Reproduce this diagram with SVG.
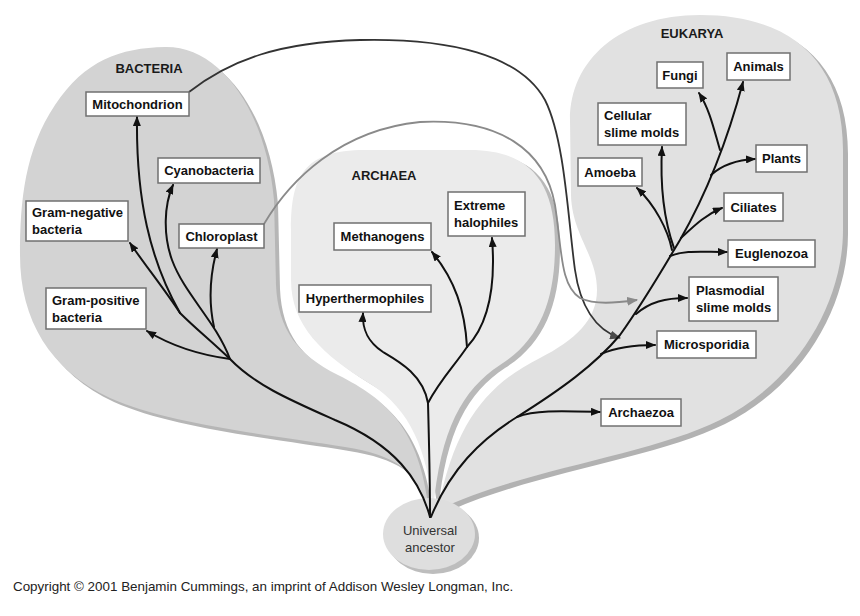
<svg xmlns="http://www.w3.org/2000/svg" width="860" height="616" viewBox="0 0 860 616">
<defs>
<style>
.lbl{font-family:"Liberation Sans",Arial,sans-serif;font-weight:bold;font-size:13px;fill:#111}
.grp{font-family:"Liberation Sans",Arial,sans-serif;font-weight:bold;font-size:13px;fill:#1a1a1a;text-anchor:middle}
.c{text-anchor:middle}
.box{fill:#fff;stroke:#707070;stroke-width:1.5}
.br{fill:none;stroke:#111;stroke-width:2;stroke-linecap:round}
.tip{marker-end:url(#ah)}
</style>
<marker id="ah" viewBox="0 0 10 8" refX="9" refY="4" markerWidth="10" markerHeight="8" markerUnits="userSpaceOnUse" orient="auto"><path d="M0,0 L10,4 L0,8 z" fill="#111"/></marker>
<marker id="ahMito" viewBox="0 0 10 8" refX="9" refY="4" markerWidth="11" markerHeight="9" markerUnits="userSpaceOnUse" orient="auto"><path d="M0,0 L10,4 L0,8 z" fill="#4a4a4a"/></marker>
<marker id="ahChl" viewBox="0 0 10 8" refX="9" refY="4" markerWidth="11" markerHeight="9" markerUnits="userSpaceOnUse" orient="auto"><path d="M0,0 L10,4 L0,8 z" fill="#8a8a8a"/></marker>
<path id="bactShape" d="M 429,512 C 418,470 395,455 345,447 C 280,436 170,425 110,398 C 50,370 20,320 20,255 C 20,200 25,150 55,105 C 85,60 120,48 165,47 C 220,46 266,110 274,200 L 276,285 C 278,330 298,355 338,375 C 388,400 420,430 429,512 Z"/>
<path id="archShape" d="M 433,512 C 428,450 410,410 372,385 C 322,355 291,325 291,280 L 291,230 C 291,177 303,150 365,150 L 470,150 C 530,150 555,182 555,245 C 555,300 540,340 500,365 C 462,390 440,430 433,512 Z"/>
<path id="eukShape" d="M 438,510 C 455,420 490,383 540,358 C 575,340 597,320 597,290 C 597,255 572,235 571,195 L 570,120 C 570,60 620,15 700,15 C 790,15 843,60 843,150 L 843,230 C 843,300 800,380 720,420 C 650,455 520,470 438,510 Z"/>
</defs>
<rect width="860" height="616" fill="#fff"/>

<g id="bacteria">
<use href="#bactShape" transform="translate(4,4)" fill="#b6b6b6"/>
<use href="#bactShape" fill="#d3d3d3"/>
<text class="grp" x="149" y="73">BACTERIA</text>
</g>
<g id="archaea">
<use href="#archShape" transform="translate(5,3)" fill="#b9b9b9"/>
<use href="#archShape" fill="#ebebeb"/>
<text class="grp" x="384" y="180">ARCHAEA</text>
</g>
<g id="eukarya">
<use href="#eukShape" transform="translate(5,4)" fill="#b2b2b2"/>
<use href="#eukShape" fill="#e1e1e1"/>
<text class="grp" x="692" y="38">EUKARYA</text>
</g>
<g id="ancestor">
<ellipse cx="433" cy="538" rx="46" ry="36" fill="#bdbdbd"/>
<ellipse cx="429" cy="534" rx="46" ry="36" fill="#dedede"/>
<text x="430" y="535" text-anchor="middle" font-family="Liberation Sans, Arial, sans-serif" font-size="13" fill="#333">Universal</text>
<text x="430" y="552" text-anchor="middle" font-family="Liberation Sans, Arial, sans-serif" font-size="13" fill="#333">ancestor</text>
</g>

<g id="connectors">
<path d="M 189,92 C 230,60 280,42 360,40 C 450,38 520,55 545,100 C 565,140 568,220 575,270 C 580,305 595,330 620,338" fill="none" stroke="#333" stroke-width="1.8" marker-end="url(#ahMito)"/>
<path d="M 264,224 C 290,180 340,130 420,122 C 500,118 545,150 555,205 C 562,250 560,285 580,298 C 595,305 615,303 637,300" fill="none" stroke="#8a8a8a" stroke-width="1.8" marker-end="url(#ahChl)"/>
<path class="br" d="M 430,517 C 420,480 395,445 335,420 C 290,400 255,385 230,359"/>
<path class="br tip" d="M 230,359 C 200,355 170,345 147,331"/>
<path class="br" d="M 230,359 C 210,340 195,328 180,313"/>
<path class="br tip" d="M 180,313 C 165,290 145,265 130,243"/>
<path class="br tip" d="M 180,313 C 150,260 136,200 137,117"/>
<path class="br tip" d="M 230,359 C 215,320 185,295 172,260 C 163,235 164,205 173,185"/>
<path class="br tip" d="M 214,327 C 208,300 210,275 217,249"/>
<path class="br" d="M 430,517 C 430,480 429,440 428,403"/>
<path class="br tip" d="M 428,403 C 423,375 400,362 383,352 C 368,342 362,330 363,313"/>
<path class="br" d="M 428,403 C 440,380 455,365 467,347"/>
<path class="br tip" d="M 467,347 C 465,310 455,280 432,252"/>
<path class="br tip" d="M 467,347 C 483,330 497,300 492,238"/>
<path class="br tip" d="M 431,517 C 450,470 480,440 517,417 C 560,390 595,365 620,335 C 645,300 665,265 680,240 C 700,205 725,150 743,82"/>
<path class="br tip" d="M 517,417 C 535,410 560,411 600,412"/>
<path class="br tip" d="M 601,354 C 615,348 630,345 655,345"/>
<path class="br tip" d="M 636,314 C 650,302 665,298 687,298"/>
<path class="br tip" d="M 670,256 C 685,250 700,252 727,252"/>
<path class="br tip" d="M 681,238 C 695,225 705,215 722,208"/>
<path class="br tip" d="M 672,250 C 668,230 655,205 637,188"/>
<path class="br tip" d="M 674,248 C 664,220 660,185 662,147"/>
<path class="br tip" d="M 711,175 C 722,165 735,160 755,159"/>
<path class="br tip" d="M 720,150 C 714,130 710,110 699,93"/>
</g>

<g id="node-mitochondrion"><rect class="box" x="86" y="92" width="103" height="24"/><text class="lbl c" x="137.5" y="108.5">Mitochondrion</text></g>
<g id="node-cyanobacteria"><rect class="box" x="158" y="158" width="102" height="25"/><text class="lbl c" x="209" y="175">Cyanobacteria</text></g>
<g id="node-gram-negative"><rect class="box" x="26" y="201" width="102" height="40"/><text class="lbl" x="32" y="217">Gram-negative</text><text class="lbl" x="32" y="234">bacteria</text></g>
<g id="node-chloroplast"><rect class="box" x="179" y="224" width="85" height="24"/><text class="lbl c" x="221.5" y="240.5">Chloroplast</text></g>
<g id="node-gram-positive"><rect class="box" x="46" y="288" width="100" height="41"/><text class="lbl" x="52" y="305">Gram-positive</text><text class="lbl" x="52" y="322">bacteria</text></g>
<g id="node-methanogens"><rect class="box" x="334" y="223" width="97" height="27"/><text class="lbl c" x="382.5" y="241">Methanogens</text></g>
<g id="node-halophiles"><rect class="box" x="448" y="192" width="77" height="44"/><text class="lbl" x="454" y="210">Extreme</text><text class="lbl" x="454" y="227">halophiles</text></g>
<g id="node-hyperthermophiles"><rect class="box" x="299" y="285" width="132" height="27"/><text class="lbl c" x="365" y="303">Hyperthermophiles</text></g>
<g id="node-fungi"><rect class="box" x="657" y="62" width="46" height="26"/><text class="lbl c" x="680" y="79.5">Fungi</text></g>
<g id="node-animals"><rect class="box" x="727" y="53" width="63" height="27"/><text class="lbl c" x="758.5" y="71">Animals</text></g>
<g id="node-cellular-slime-molds"><rect class="box" x="598" y="103" width="88" height="42"/><text class="lbl" x="604" y="120">Cellular</text><text class="lbl" x="604" y="137">slime molds</text></g>
<g id="node-amoeba"><rect class="box" x="578" y="158" width="64" height="28"/><text class="lbl c" x="610" y="176.5">Amoeba</text></g>
<g id="node-plants"><rect class="box" x="756" y="145" width="51" height="27"/><text class="lbl c" x="781.5" y="163">Plants</text></g>
<g id="node-ciliates"><rect class="box" x="724" y="193" width="59" height="28"/><text class="lbl c" x="753.5" y="211.5">Ciliates</text></g>
<g id="node-euglenozoa"><rect class="box" x="728" y="240" width="87" height="27"/><text class="lbl c" x="771.5" y="258">Euglenozoa</text></g>
<g id="node-plasmodial"><rect class="box" x="689" y="277" width="89" height="44"/><text class="lbl" x="696" y="295">Plasmodial</text><text class="lbl" x="696" y="312">slime molds</text></g>
<g id="node-microsporidia"><rect class="box" x="657" y="331" width="99" height="27"/><text class="lbl c" x="706.5" y="349">Microsporidia</text></g>
<g id="node-archaezoa"><rect class="box" x="601" y="399" width="80" height="27"/><text class="lbl c" x="641" y="417">Archaezoa</text></g>

<text x="13" y="591" font-family="Liberation Sans, Arial, sans-serif" font-size="13.4" fill="#222">Copyright © 2001 Benjamin Cummings, an imprint of Addison Wesley Longman, Inc.</text>
</svg>
